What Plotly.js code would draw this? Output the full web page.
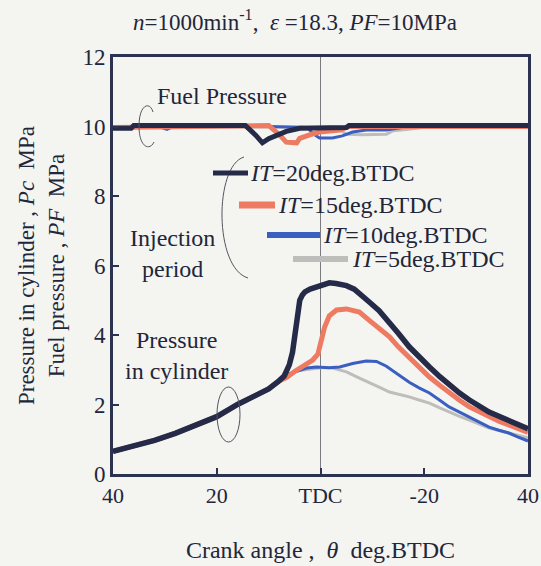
<!DOCTYPE html>
<html>
<head>
<meta charset="utf-8">
<script src="https://cdn.plot.ly/plotly-3.0.1.min.js"></script>
<style>
  html, body { margin: 0; padding: 0; background: #f4f4f1; }
  #chart { width: 541px; height: 566px; }
</style>
</head>
<body>
<div id="chart"></div>
<script>
// Crank angle (deg. BTDC) and cylinder pressure (MPa) for each injection timing
const angle20 = [40, 36, 32, 28, 24, 20, 16, 12, 10, 8, 7, 6.5, 6, 5.4, 5, 4.6, 4, 3.5, 3, 2, 1, 0, -1.7, -3, -5, -6.5, -8, -9.4, -11.3, -13.3, -15, -17.1, -19, -21, -23, -24.8, -26.8, -28.7, -30.6, -32.5, -34.4, -36.3, -38, -40];
const pc20 = [0.65, 0.8, 0.97, 1.17, 1.4, 1.65, 2.0, 2.3, 2.45, 2.68, 2.82, 2.98, 3.15, 3.5, 4.0, 4.43, 5.0, 5.15, 5.24, 5.32, 5.38, 5.44, 5.5, 5.48, 5.42, 5.32, 5.15, 4.95, 4.7, 4.38, 4.05, 3.66, 3.36, 3.08, 2.8, 2.56, 2.33, 2.13, 1.95, 1.78, 1.66, 1.55, 1.42, 1.3];

const angle15 = [40, 36, 32, 28, 24, 20, 16, 12, 10, 8, 6.5, 5, 4, 3, 1.5, 0.5, 0.2, -0.8, -1.7, -3.1, -5, -7.5, -9.4, -11.3, -13.3, -15, -17.1, -19, -21, -23, -24.8, -26.8, -28.7, -30.6, -32.5, -34.4, -36.3, -38, -40];
const pc15 = [0.65, 0.8, 0.97, 1.17, 1.4, 1.65, 2.0, 2.3, 2.45, 2.68, 2.78, 2.95, 3.05, 3.15, 3.28, 3.45, 3.66, 4.23, 4.55, 4.72, 4.75, 4.66, 4.42, 4.2, 3.95, 3.66, 3.34, 3.07, 2.79, 2.55, 2.33, 2.12, 1.93, 1.78, 1.64, 1.52, 1.41, 1.31, 1.2];

const angle10 = [40, 36, 32, 28, 24, 20, 16, 12, 10, 8, 6, 4, 2.7, 0.8, -1.7, -3.7, -6.2, -8.8, -10.8, -12.7, -15, -17.1, -19, -21, -23, -24.8, -26.8, -28.7, -30.6, -32.5, -34.4, -36.3, -38, -40];
const pc10 = [0.63, 0.78, 0.95, 1.15, 1.38, 1.63, 1.98, 2.28, 2.43, 2.65, 2.88, 2.98, 3.05, 3.08, 3.06, 3.08, 3.18, 3.25, 3.24, 3.1, 2.85, 2.64, 2.48, 2.33, 2.12, 1.93, 1.78, 1.64, 1.49, 1.35, 1.26, 1.18, 1.07, 0.95];

const angle5 = [40, 36, 32, 28, 24, 20, 16, 12, 10, 8, 6, 4, 2, 0, -2, -3.1, -5, -7.5, -9.4, -11.3, -13.3, -15, -17.1, -19, -21, -23, -24.8, -26.8, -28.7, -30.6, -32.5, -34.4, -36.3, -38, -40];
const pc5 = [0.63, 0.78, 0.95, 1.15, 1.38, 1.63, 1.98, 2.28, 2.43, 2.65, 2.88, 2.98, 3.03, 3.06, 3.06, 3.02, 2.94, 2.76, 2.62, 2.5, 2.36, 2.3, 2.22, 2.13, 2.04, 1.9, 1.78, 1.66, 1.55, 1.43, 1.32, 1.25, 1.18, 1.1, 1.04];

// Fuel pressure (MPa) for each injection timing
const fAngle20 = [40, 36.5, 36, 14.5, 12.5, 11.2, 10, 8, 6.6, 4, 0, -5, -5.5, -40];
const pf20 = [9.95, 9.95, 10.03, 10.03, 9.75, 9.53, 9.65, 9.78, 9.86, 9.95, 9.96, 9.97, 10.03, 10.03];

const fAngle15 = [40, 36, 15, 12, 10, 7.9, 6.6, 4.6, 4, 2.1, 0.2, -3.7, -5.5, -40];
const pf15 = [9.97, 9.98, 10.03, 10.06, 10.03, 9.76, 9.55, 9.53, 9.66, 9.76, 9.84, 9.9, 10.0, 10.0];

const fAngle10 = [40, 31, 29.6, 28.5, 10, 2.5, 1.5, 0.2, -2.3, -4.2, -6.2, -8.8, -12.7, -15.2, -17, -40];
const pf10 = [9.98, 9.99, 9.92, 9.99, 10.0, 9.97, 9.8, 9.67, 9.67, 9.73, 9.84, 9.9, 9.9, 9.96, 10.0, 10.0];

const fAngle5 = [40, -3, -5, -8, -12.7, -14, -17, -19.5, -21, -40];
const pf5 = [10.0, 9.98, 9.78, 9.76, 9.78, 9.88, 9.92, 9.96, 10.0, 10.0];

// Axis ticks
const xTickVals = [40, 20, 0, -20, -40];
const xTickText = ['40', '20', 'TDC', '-20', '40'];
const yTickVals = [0, 2, 4, 6, 8, 10, 12];

// Series labels
const seriesNames = ['<i>IT</i>=20deg.BTDC', '<i>IT</i>=15deg.BTDC', '<i>IT</i>=10deg.BTDC', '<i>IT</i>=5deg.BTDC'];

const C20 = '#242a47', C15 = '#ef7a62', C10 = '#3b5fc0', C5 = '#bdbdbb';
const INK = '#22263a';
const FONT = '"Liberation Serif", "Times New Roman", serif';

// plot area in pixels: left 113, right 528, top 57, bottom 474
const L = 113, R = 528, T = 57, B = 474;
const px = v => (v - L) / (R - L);
const py = v => (B - v) / (B - T);

function line(x, y, color, width) {
  return { x: x, y: y, type: 'scatter', mode: 'lines', hoverinfo: 'skip', showlegend: false,
           line: { color: color, width: width, shape: 'linear' } };
}

const traces = [
  line(fAngle5, pf5, C5, 3),
  line(fAngle10, pf10, C10, 3),
  line(fAngle15, pf15, C15, 5),
  line(fAngle20, pf20, C20, 5),
  line(angle5, pc5, C5, 3),
  line(angle10, pc10, C10, 3),
  line(angle15, pc15, C15, 5),
  line(angle20, pc20, C20, 5.5)
];

// legend keys: [x0, x1, y] in pixels
const keys = [[213, 248, 173, C20, 5], [239, 275, 205, C15, 7], [267, 320, 235, C10, 6], [293, 348, 259, C5, 6]];
const textStarts = [248, 276, 321, 350];

const shapes = [
  // TDC reference line
  { type: 'line', xref: 'x', yref: 'paper', x0: 0, x1: 0, y0: 0, y1: 1, line: { color: '#7a7a80', width: 1 }, layer: 'below' },
  // bracket marking the fuel pressure curves
  { type: 'path', xref: 'paper', yref: 'paper', line: { color: '#555560', width: 1 },
    path: `M ${px(153)} ${py(112)} C ${px(150)} ${py(101)} ${px(139)} ${py(104)} ${px(139)} ${py(126)} C ${px(139)} ${py(148)} ${px(150)} ${py(151)} ${px(154)} ${py(142)}` },
  // bracket grouping the injection period entries
  { type: 'path', xref: 'paper', yref: 'paper', line: { color: '#555560', width: 1 },
    path: `M ${px(244)} ${py(157)} C ${px(214)} ${py(166)} ${px(214)} ${py(268)} ${px(248)} ${py(278)}` },
  // ring marking the cylinder pressure curves
  { type: 'circle', xref: 'paper', yref: 'paper', x0: px(217), x1: px(240), y0: py(442), y1: py(387),
    line: { color: '#555560', width: 1 } }
];
keys.forEach(k => shapes.push({ type: 'line', xref: 'paper', yref: 'paper', x0: px(k[0]), x1: px(k[1]), y0: py(k[2]), y1: py(k[2]),
  line: { color: k[3], width: k[4] } }));

const annFont = { family: FONT, size: 24, color: INK };
const annotations = [
  { xref: 'paper', yref: 'paper', x: px(222), y: py(96), text: 'Fuel Pressure', showarrow: false, font: annFont, xanchor: 'center', yanchor: 'middle' },
  { xref: 'paper', yref: 'paper', x: px(172), y: py(254), text: 'Injection<br>period', showarrow: false, font: annFont, xanchor: 'center', yanchor: 'middle' },
  { xref: 'paper', yref: 'paper', x: px(176), y: py(355), text: 'Pressure<br>in cylinder', showarrow: false, font: annFont, xanchor: 'center', yanchor: 'middle' }
];
seriesNames.forEach((s, i) => annotations.push({ xref: 'paper', yref: 'paper', x: px(textStarts[i]), y: py(keys[i][2]),
  text: s, showarrow: false, font: annFont, xanchor: 'left', yanchor: 'middle' }));

const layout = {
  width: 541, height: 566,
  margin: { l: L, r: 541 - R, t: T, b: 566 - B },
  paper_bgcolor: '#f4f4f1', plot_bgcolor: '#f4f4f1',
  font: { family: FONT, size: 22, color: INK },
  title: { text: '<i>n</i>=1000min<sup>-1</sup>,  <i>ε</i> =18.3, <i>PF</i>=10MPa', font: { family: FONT, size: 23, color: INK },
           xref: 'container', yref: 'container', x: 295 / 541, xanchor: 'center', y: 1 - 22 / 566, yanchor: 'middle' },
  xaxis: {
    range: [40, -40], tickvals: xTickVals, ticktext: xTickText, ticks: 'inside', ticklen: 6, tickwidth: 2, tickcolor: '#2b3350',
    showline: true, linecolor: '#2b3350', linewidth: 3, mirror: true, showgrid: false, zeroline: false,
    tickfont: { family: FONT, size: 22, color: INK },
    title: { text: 'Crank angle ,  <i>θ</i>  deg.BTDC', font: { family: FONT, size: 24, color: INK }, standoff: 34 }
  },
  yaxis: {
    range: [0, 12], tickvals: yTickVals, ticks: 'inside', ticklen: 6, tickwidth: 2, tickcolor: '#2b3350',
    showline: true, linecolor: '#2b3350', linewidth: 3, mirror: true, showgrid: false, zeroline: false,
    tickfont: { family: FONT, size: 23, color: INK },
    title: { text: 'Pressure in cylinder , <i>Pc</i>  MPa<br>Fuel pressure , <i>PF</i>  MPa', font: { family: FONT, size: 23, color: INK }, standoff: 12 }
  },
  shapes: shapes,
  annotations: annotations
};

Plotly.newPlot('chart', traces, layout, { staticPlot: true, displayModeBar: false });
</script>
</body>
</html>
